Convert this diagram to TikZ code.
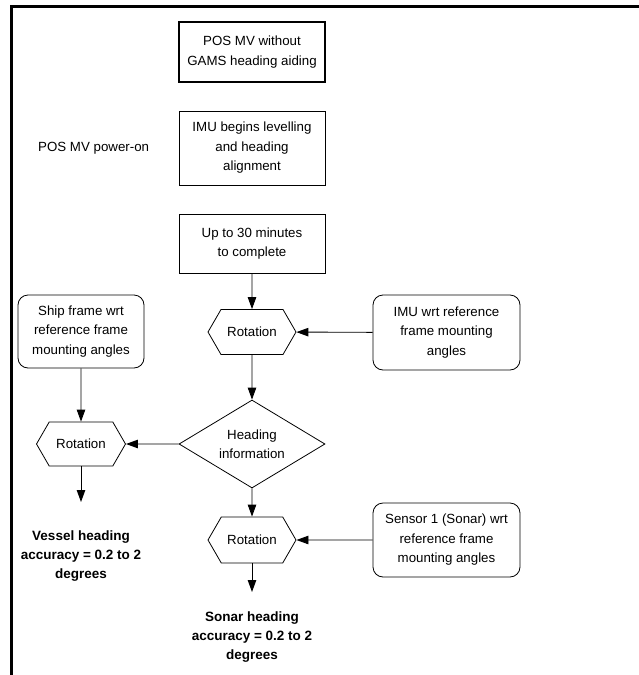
\documentclass[tikz,border=0pt]{standalone}
\usepackage{fontspec}
\setmainfont{Liberation Sans}
\usepackage{tikz}
\usetikzlibrary{shapes.geometric, shapes.symbols, arrows.meta, positioning}

\begin{document}
\begin{tikzpicture}[x=1pt, y=1pt,
    font=\fontsize{13.3}{19.5}\selectfont,
    step box/.style={rectangle, 
      draw, 
      line width=0.8pt, 
      align=center, 
      inner sep=0pt, 
      minimum width=146pt},
    frame box/.style={rectangle, 
      rounded corners=10pt, 
      draw, 
      line width=0.8pt, 
      align=center, 
      inner sep=0pt},
    rotation/.style={signal, 
      signal to=east and west, 
      signal pointer angle=120, 
      draw, 
      line width=0.8pt, 
      inner sep=0pt, 
      minimum width=88pt, 
      minimum height=45pt},
    decision/.style={diamond, 
      draw, 
      line width=0.8pt, 
      align=center, 
      inner sep=0pt, 
      aspect=1.66, 
      minimum width=146pt, 
      minimum height=88pt},
    result/.style={align=center, 
      font=\fontsize{13.5}{19}\selectfont\bfseries},
    flow/.style={-{Triangle[length=12pt, width=8.5pt]}, line width=0.9pt}]

  \useasboundingbox (0,0) rectangle (639,-675);

  % PAGE FRAME

  \draw[line width=3pt] (11,-675) -- (11,-6) -- (639,-6);

  % START-UP

  \node [step box, 
    line width=1.6pt, 
    minimum height=60pt] (posmv) at (252,-52) {POS MV without\\GAMS heading aiding};

  \node [step box, 
    minimum height=74pt] (levelling) at (252,-148) {IMU begins levelling\\and heading\\alignment};

  \node [left=26pt of levelling, 
    anchor=east] (poweron) {POS MV power-on};

  \node [step box, 
    minimum height=59pt] (complete) at (252,-243.5) {Up to 30 minutes\\to complete};

  % ROTATIONS

  \node [rotation] (imurot) at (252,-332) {Rotation};

  \node [frame box, 
    minimum width=147pt, 
    minimum height=75pt] (imuframe) at (446.5,-332.5) {IMU wrt reference\\frame mounting\\angles};

  \node [decision] (heading) at (252,-444) {Heading\\information};

  \node [frame box, 
    minimum width=126pt, 
    minimum height=73pt] (shipframe) at (81,-331.5) {Ship frame wrt\\reference frame\\mounting angles};

  \node [rotation, 
    minimum width=89pt, 
    minimum height=44pt] (shiprot) at (81,-444) {Rotation};

  \node [rotation, 
    minimum height=46pt] (sonarrot) at (252,-540) {Rotation};

  \node [frame box, 
    minimum width=147pt, 
    minimum height=74pt] (sonarframe) at (446.5,-540) {Sensor 1 (Sonar) wrt\\reference frame\\mounting angles};

  % RESULTS

  \coordinate (vesselend) at (81,-502);
  \coordinate (sonarend) at (252,-592);

  \node [result] (vessel) at (81,-556) {Vessel heading\\accuracy = 0.2 to 2\\degrees};

  \node [result] (sonar) at (252,-637) {Sonar heading\\accuracy = 0.2 to 2\\degrees};

  \draw[flow] (complete) -- (imurot);
  \draw[flow] (imuframe) -- (imurot);
  \draw[flow] (imurot) -- (heading);
  \draw[flow] (shipframe) -- (shiprot);
  \draw[flow] (heading) -- (shiprot);
  \draw[flow] (shiprot) -- (vesselend);
  \draw[flow] (heading) -- (sonarrot);
  \draw[flow] (sonarframe) -- (sonarrot);
  \draw[flow] (sonarrot) -- (sonarend);

\end{tikzpicture}
\end{document}
